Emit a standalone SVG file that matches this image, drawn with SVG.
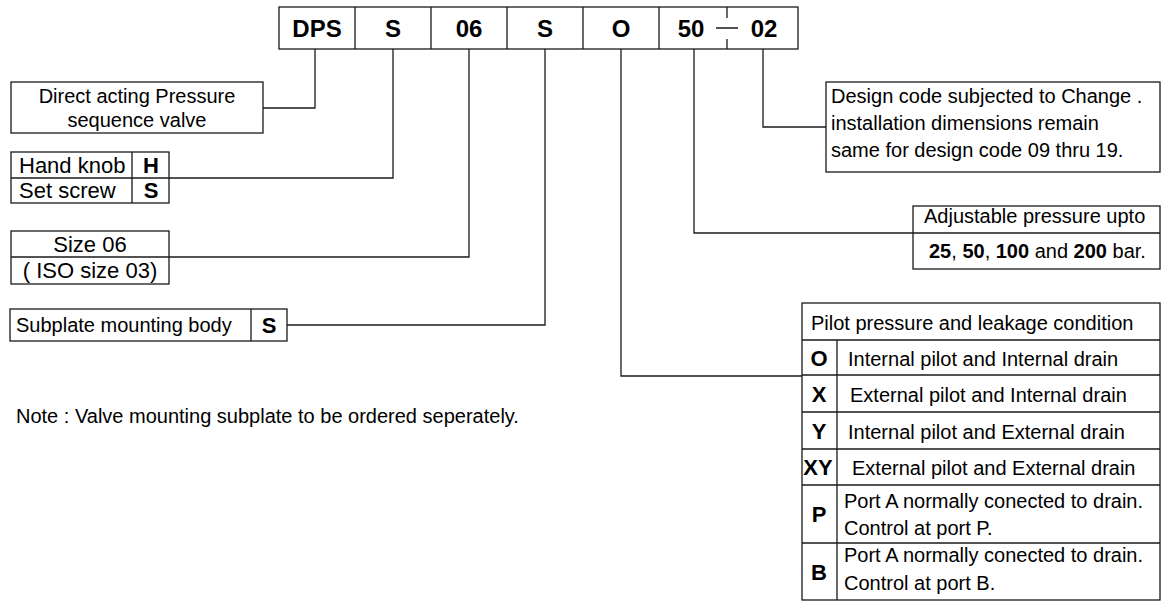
<svg xmlns="http://www.w3.org/2000/svg" width="1162" height="602" viewBox="0 0 1162 602">
<style>
.b{fill:#fff;stroke:#1a1a1a;stroke-width:1.3}
.l{fill:none;stroke:#1a1a1a;stroke-width:1.3}
text{font-family:"Liberation Sans",Arial,sans-serif;fill:#000}
.t{font-size:20px}
.t2{font-size:22px}
.k{font-size:22px;font-weight:bold}
.c{font-size:24px;font-weight:bold}
.m{text-anchor:middle}
</style>
<rect width="1162" height="602" fill="#fff"/>
<g id="code">
<rect class="b" x="279" y="7" width="519" height="42"/>
<path class="l" d="M355 7V49M431 7V49M507 7V49M583 7V49M659 7V49M727 7V18M727 39V49M716 28H738"/>
<text class="c m" x="317" y="37">DPS</text>
<text class="c m" x="393" y="37">S</text>
<text class="c m" x="469" y="37">06</text>
<text class="c m" x="545" y="37">S</text>
<text class="c m" x="621" y="37">O</text>
<text class="c m" x="691" y="37">50</text>
<text class="c m" x="764" y="37">02</text>
</g>
<g id="connectors">
<path class="l" d="M315 49V108H263"/>
<path class="l" d="M393 49V178H169"/>
<path class="l" d="M469 49V257H169"/>
<path class="l" d="M545 49V325H287"/>
<path class="l" d="M621 49V376H802"/>
<path class="l" d="M694 49V233H913"/>
<path class="l" d="M763 49V127H826"/>
</g>
<g id="type">
<rect class="b" x="11" y="82" width="252" height="51"/>
<text class="t m" x="137" y="103">Direct acting Pressure</text>
<text class="t m" x="137" y="127">sequence valve</text>
</g>
<g id="adjust">
<rect class="b" x="11" y="152" width="158" height="51"/>
<path class="l" d="M11 178H169M132 152V203"/>
<text class="t2" x="19" y="173">Hand knob</text>
<text class="t2" x="19" y="198">Set screw</text>
<text class="k m" x="151" y="173">H</text>
<text class="k m" x="151" y="198">S</text>
</g>
<g id="size">
<rect class="b" x="11" y="231" width="158" height="53"/>
<path class="l" d="M11 257H169"/>
<text class="t2 m" x="90" y="252">Size 06</text>
<text class="t2 m" x="90" y="278">( ISO size 03)</text>
</g>
<g id="body">
<rect class="b" x="10" y="309" width="277" height="32"/>
<path class="l" d="M251 309V341"/>
<text class="t" x="16" y="332">Subplate mounting body</text>
<text class="k m" x="269" y="333">S</text>
</g>
<g id="note">
<text class="t" x="16" y="423">Note : Valve mounting subplate to be ordered seperately.</text>
</g>
<g id="design">
<rect class="b" x="826" y="82" width="334" height="90"/>
<text class="t" x="831" y="103">Design code subjected to Change .</text>
<text class="t" x="831" y="130">installation dimensions remain</text>
<text class="t" x="831" y="157">same for design code 09 thru 19.</text>
</g>
<g id="pressure">
<rect class="b" x="913" y="206" width="247" height="63"/>
<path class="l" d="M913 233H1160"/>
<text class="t" x="924" y="223">Adjustable pressure upto</text>
<text class="t" x="929" y="258"><tspan font-weight="bold">25</tspan>, <tspan font-weight="bold">50</tspan>, <tspan font-weight="bold">100</tspan> and <tspan font-weight="bold">200</tspan> bar.</text>
</g>
<g id="pilot">
<rect class="b" x="802" y="303" width="358" height="297"/>
<path class="l" d="M802 340H1160M802 375H1160M802 412H1160M802 449H1160M802 485H1160M802 543H1160M837 340V600"/>
<text class="t" x="811" y="330">Pilot pressure and leakage condition</text>
<text class="k m" x="819" y="366">O</text>
<text class="t" x="848" y="366">Internal pilot and Internal drain</text>
<text class="k m" x="819" y="402">X</text>
<text class="t" x="850" y="402">External pilot and Internal drain</text>
<text class="k m" x="819" y="439">Y</text>
<text class="t" x="848" y="439">Internal pilot and External drain</text>
<text class="k m" x="818" y="475">XY</text>
<text class="t" x="852" y="475">External pilot and External drain</text>
<text class="k m" x="819" y="522">P</text>
<text class="t" x="844" y="508">Port A normally conected to drain.</text>
<text class="t" x="844" y="535">Control at port P.</text>
<text class="k m" x="819" y="580">B</text>
<text class="t" x="844" y="562">Port A normally conected to drain.</text>
<text class="t" x="844" y="590">Control at port B.</text>
</g>
</svg>
